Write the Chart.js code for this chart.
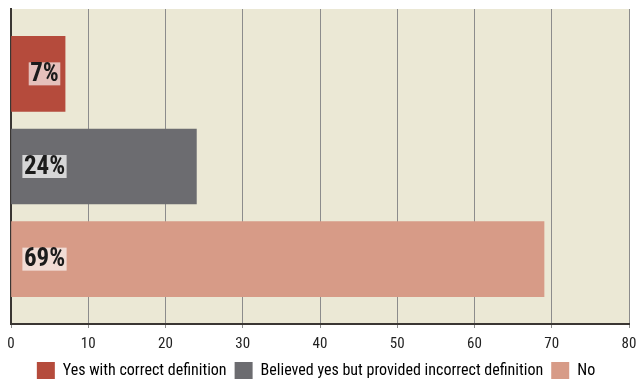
<!DOCTYPE html>
<html>
<head>
<meta charset="utf-8">
<script src="https://cdn.jsdelivr.net/npm/chart.js@4"></script>
<style>
html,body{margin:0;padding:0;background:#fff;}
#wrap{width:637px;height:385px;}
</style>
</head>
<body>
<div id="wrap"><canvas id="c" width="637" height="385"></canvas></div>
<script>
const categories = ['Yes with correct definition', 'Believed yes but provided incorrect definition', 'No'];
const values = [7, 24, 69];
const valueLabels = ['7%', '24%', '69%'];
const barColors = ['#B54B3C', '#6C6C70', '#D79B87'];
const labelBoxColors = ['rgba(255,255,255,0.65)', 'rgba(255,255,255,0.72)', 'rgba(255,255,255,0.65)'];
const xTicks = [0, 10, 20, 30, 40, 50, 60, 70, 80];

const FONT = "'Roboto Condensed', 'DejaVu Sans Condensed', sans-serif";

const bgPlugin = {
  id: 'bg',
  beforeDraw(chart) {
    const {ctx, chartArea: a} = chart;
    ctx.save();
    ctx.fillStyle = '#EBE8D5';
    ctx.fillRect(a.left, a.top, a.right - a.left, a.bottom - a.top);
    ctx.restore();
  }
};

const labelPlugin = {
  id: 'vlabels',
  afterDatasetsDraw(chart) {
    const {ctx, chartArea: a} = chart;
    const meta = chart.getDatasetMeta(0);
    ctx.save();
    ctx.font = "bold 25px " + FONT;
    ctx.textAlign = 'center';
    ctx.textBaseline = 'middle';
    meta.data.forEach((el, i) => {
      const txt = valueLabels[i];
      const cx = a.left + 33.5;
      const w = ctx.measureText(txt).width + 3;
      const h = 23;
      ctx.fillStyle = labelBoxColors[i];
      ctx.fillRect(cx - w / 2, el.y - h / 2, w, h);
      ctx.fillStyle = '#1b1b1b';
      ctx.fillText(txt, cx, el.y + 1);
    });
    ctx.restore();
  }
};

new Chart(document.getElementById('c'), {
  type: 'bar',
  data: {
    datasets: [{
      data: values.map((v, i) => ({x: v, y: i})),
      backgroundColor: barColors,
      borderWidth: 0,
      barThickness: 75
    }]
  },
  options: {
    indexAxis: 'y',
    responsive: false,
    animation: false,
    devicePixelRatio: 1,
    layout: {padding: {top: 9, left: 3, right: 8, bottom: -4}},
    scales: {
      x: {
        type: 'linear',
        min: 0, max: 80,
        afterBuildTicks(scale) { scale.ticks = xTicks.map(v => ({value: v})); },
        afterFit(scale) { scale.height -= 7; scale.paddingLeft = 0; scale.paddingRight = 0; },
        grid: {color: '#8C8C8C', lineWidth: 1, tickLength: 4, drawTicks: true},
        border: {color: '#3A3633', width: 2},
        ticks: {color: '#222', font: {family: FONT, size: 15, lineHeight: 1}, padding: 9, maxRotation: 0}
      },
      y: {
        type: 'linear',
        min: -0.7, max: 2.7,
        reverse: true,
        offset: false,
        grid: {display: false, offset: false},
        border: {color: '#3A3633', width: 2},
        ticks: {display: false}
      }
    },
    plugins: {
      tooltip: {enabled: false},
      legend: {
        position: 'bottom',
        labels: {
          font: {family: FONT, size: 16},
          color: '#222',
          boxWidth: 18,
          boxHeight: 17,
          padding: 8,
          generateLabels() {
            return categories.map((c, i) => ({
              text: c,
              fillStyle: barColors[i],
              strokeStyle: barColors[i],
              lineWidth: 0,
              hidden: false,
              index: i
            }));
          }
        }
      }
    }
  },
  plugins: [bgPlugin, labelPlugin]
});
</script>
</body>
</html>
